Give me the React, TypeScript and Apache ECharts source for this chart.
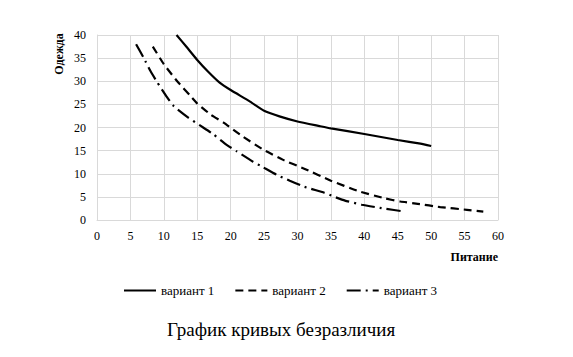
import React, { useEffect, useRef } from "react";
import * as echarts from "echarts";

const seriesNames = ["вариант 1", "вариант 2", "вариант 3"];

const variant1: [number, number][] = [
  [11.9, 40], [13.35, 37.5], [15, 34.6], [16.6, 32.1], [18.35, 29.7], [20, 28.1],
  [22.9, 25.6], [25, 23.6], [27.3, 22.4], [30, 21.3], [33.3, 20.3], [35, 19.8],
  [40, 18.6], [45, 17.3], [48.4, 16.5], [50, 16],
];

const variant2: [number, number][] = [
  [8.35, 37.5], [10, 33.7], [12, 30], [14, 26.8], [15, 25.2], [17, 22.8], [19, 21],
  [21.85, 18], [25, 15.1], [27.85, 13], [31, 11.1], [35, 8.5], [39, 6.3], [43, 4.7],
  [45.4, 4.0], [48, 3.5], [51.35, 2.8], [55.35, 2.2], [57.8, 1.8],
];

const variant3: [number, number][] = [
  [5.85, 38], [7, 35], [8, 32.2], [9, 29.8], [10.5, 26.5], [11.5, 24.6], [13.6, 22.2],
  [15.35, 20.5], [17.35, 18.6], [19.35, 16.3], [20.85, 14.9], [23.35, 12.6],
  [24.85, 11.4], [26.85, 9.8], [28.85, 8.5], [31, 7.2], [34, 5.9], [35.35, 5.1],
  [37.1, 4.2], [39.6, 3.3], [42.85, 2.5], [46.1, 1.8],
];

const xName = "Питание";
const yName = "Одежда";
const chartTitle = "График кривых безразличия";

const FONT = "Liberation Serif";

export default function App() {
  const ref = useRef<HTMLDivElement>(null);
  useEffect(() => {
    if (!ref.current) return;
    const chart = echarts.init(ref.current, undefined, { renderer: "svg" });
    const dashes = ["solid", [8, 5], [14, 5, 2, 5]];
    const datasets = [variant1, variant2, variant3];
    chart.setOption({
      animation: false,
      backgroundColor: "#ffffff",
      textStyle: { fontFamily: FONT, color: "#000" },
      grid: { left: 97, right: 75, top: 35, bottom: 137, containLabel: false },
      title: {
        text: chartTitle,
        left: 162,
        top: 315,
        textStyle: { fontFamily: FONT, fontSize: 19, fontWeight: "normal", color: "#000" },
      },
      legend: {
        data: seriesNames,
        top: 279,
        left: 118,
        itemWidth: 32,
        itemHeight: 10,
        itemGap: 20,
        itemStyle: { opacity: 0 },
        textStyle: { fontFamily: FONT, fontSize: 13, color: "#000" },
      },
      xAxis: {
        type: "value",
        min: 0,
        max: 60,
        interval: 5,
        name: xName,
        nameLocation: "end",
        nameGap: 0,
        nameTextStyle: {
          fontFamily: FONT,
          fontSize: 12,
          fontWeight: "bold",
          color: "#000",
          align: "right",
          verticalAlign: "top",
          padding: [31, 0, 0, 0],
        },
        axisLine: { show: true, lineStyle: { color: "#d9d9d9", width: 1 } },
        axisTick: { show: false },
        axisLabel: { fontFamily: FONT, fontSize: 12, color: "#000", margin: 10 },
        splitLine: { show: true, lineStyle: { color: "#d9d9d9", width: 1 } },
      },
      yAxis: {
        type: "value",
        min: 0,
        max: 40,
        interval: 5,
        axisLine: { show: true, lineStyle: { color: "#d9d9d9", width: 1 } },
        axisTick: { show: false },
        axisLabel: { fontFamily: FONT, fontSize: 12, color: "#000", margin: 11 },
        splitLine: { show: true, lineStyle: { color: "#d9d9d9", width: 1 } },
      },
      graphic: [
        {
          type: "text",
          x: 59,
          y: 54,
          rotation: Math.PI / 2,
          style: {
            text: yName,
            fontFamily: FONT,
            fontSize: 12,
            fontWeight: "bold",
            fill: "#000",
            align: "center",
            verticalAlign: "middle",
          },
        },
      ],
      series: datasets.map((d, i) => ({
        name: seriesNames[i],
        type: "line",
        data: d,
        symbol: "none",
        smooth: 0.15,
        clip: true,
        lineStyle: { color: "#000", width: 2.2, type: dashes[i] },
        itemStyle: { color: "#000" },
      })),
    });
    return () => chart.dispose();
  }, []);
  return <div ref={ref} style={{ width: 573, height: 357, position: "absolute", left: 0, top: 0 }} />;
}
